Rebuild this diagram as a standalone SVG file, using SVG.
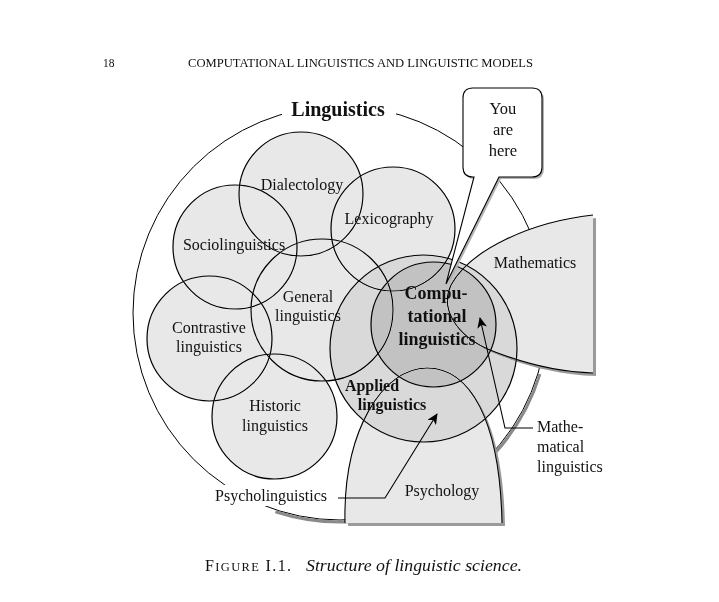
<svg xmlns="http://www.w3.org/2000/svg" width="719" height="602" viewBox="0 0 719 602">
<style>
  text { font-family: "Liberation Serif", "Times New Roman", serif; fill: #111; }
  .lbl { font-size: 16px; text-anchor: middle; }
  .bold { font-weight: bold; }
  .circ { stroke: #000; stroke-width: 1.2; fill: #e8e8e8; }
  .node { mix-blend-mode: darken; }
  .shadow { fill: #9a9a9a; }
  .line { fill: none; stroke: #000; stroke-width: 1.1; }
</style>
<defs>
  <marker id="arr" markerUnits="userSpaceOnUse" markerWidth="12" markerHeight="10" refX="10" refY="5" orient="auto">
    <path d="M0,0 L11,5 L0,10 L3,5 Z" fill="#000"/>
  </marker>
</defs>
<rect width="719" height="602" fill="#fff"/>

<g id="header">
  <text x="103" y="67" style="font-size:11.5px">18</text>
  <text x="188" y="67" style="font-size:11.5px" textLength="345" lengthAdjust="spacingAndGlyphs">COMPUTATIONAL LINGUISTICS AND LINGUISTIC MODELS</text>
</g>

<g id="linguistics">
  <circle cx="340" cy="313" r="207" fill="none" stroke="#000" stroke-width="1"/>
  <path d="M539.9,374.1 A209,209 0 0 1 495.3,452.8" fill="none" stroke="#8a8a8a" stroke-width="3"/>
  <path d="M347.3,521.9 A209,209 0 0 1 275.4,511.8" fill="none" stroke="#8a8a8a" stroke-width="3"/>
  <rect x="282" y="94" width="114" height="28" fill="#fff"/>
  <text x="338" y="116" class="lbl bold" style="font-size:20px">Linguistics</text>
</g>

<g id="mathematics">
  <path class="shadow" d="M596,218 C533,225 473,253 454,288 C443,311 458,338 493,353 C523,365 558,375 596,376 Z"/>
  <path d="M593,215 C530,222 470,250 451,285 C440,308 455,335 490,350 C520,362 555,372 593,373 Z" fill="#e8e8e8"/>
  <path d="M593,215 C530,222 470,250 451,285 C440,308 455,335 490,350 C520,362 555,372 593,373" class="line"/>
  <text x="535" y="268" class="lbl">Mathematics</text>
</g>

<g id="psychology">
  <path class="shadow" d="M348,526 C346,433 386,371 430,371 C473,371 503,423 505,526 Z"/>
  <path d="M345,523 C343,430 383,368 427,368 C470,368 500,420 502,523 Z" fill="#e8e8e8"/>
  <path d="M345,523 C343,430 383,368 427,368 C470,368 500,420 502,523" class="line"/>
  <text x="442" y="496" class="lbl">Psychology</text>
</g>

<g id="dialectology" class="node">
  <circle class="circ" cx="301" cy="194" r="62"/>
  <text x="302" y="190" class="lbl">Dialectology</text>
</g>
<g id="lexicography" class="node">
  <circle class="circ" cx="393" cy="229" r="62"/>
  <text x="389" y="224" class="lbl">Lexicography</text>
</g>
<g id="sociolinguistics" class="node">
  <circle class="circ" cx="235" cy="247" r="62"/>
  <text x="234" y="250" class="lbl">Sociolinguistics</text>
</g>
<g id="general" class="node">
  <circle class="circ" cx="322" cy="310" r="71"/>
  <text x="308" y="302" class="lbl">General</text>
  <text x="308" y="321" class="lbl">linguistics</text>
</g>
<g id="contrastive" class="node">
  <circle class="circ" cx="209.5" cy="338.5" r="62.5"/>
  <text x="209" y="333" class="lbl">Contrastive</text>
  <text x="209" y="352" class="lbl">linguistics</text>
</g>
<g id="historic" class="node">
  <circle class="circ" cx="274.5" cy="416.5" r="62.5"/>
  <text x="275" y="411" class="lbl">Historic</text>
  <text x="275" y="431" class="lbl">linguistics</text>
</g>
<g id="applied" class="node">
  <circle class="circ" cx="423.5" cy="348.5" r="93.5" style="fill:#d9d9d9"/>
  <text x="372" y="391" class="lbl bold">Applied</text>
  <text x="392" y="410" class="lbl bold">linguistics</text>
</g>
<g id="computational" class="node">
  <circle class="circ" cx="433.5" cy="324.5" r="62.5" style="fill:#c2c2c2"/>
  <text x="436" y="299" class="lbl bold" style="font-size:18px">Compu-</text>
  <text x="437" y="322" class="lbl bold" style="font-size:18px">tational</text>
  <text x="437" y="345" class="lbl bold" style="font-size:18px">linguistics</text>
</g>

<g id="callout">
  <path transform="translate(2,2)" fill="#b4b4b4" d="M473,88 H532 Q542,88 542,98 V167 Q542,177 532,177 H499 L446,284 L474,177 H473 Q463,177 463,167 V98 Q463,88 473,88 Z"/>
  <path d="M473,88 H532 Q542,88 542,98 V167 Q542,177 532,177 H499 L446,284 L474,177 H473 Q463,177 463,167 V98 Q463,88 473,88 Z" fill="#fff" stroke="#000" stroke-width="1.1"/>
  <text x="503" y="114" class="lbl" style="font-size:16.5px">You</text>
  <text x="503" y="135" class="lbl" style="font-size:16.5px">are</text>
  <text x="503" y="156" class="lbl" style="font-size:16.5px">here</text>
</g>

<g id="connectors">
  <polyline class="line" points="338,498 385,498 437,414" marker-end="url(#arr)"/>
  <polyline class="line" points="533,428 505,428 480,318" marker-end="url(#arr)"/>
</g>

<g id="psycholinguistics">
  <rect x="211" y="485" width="123" height="21" fill="#fff"/>
  <text x="215" y="501" style="font-size:16px">Psycholinguistics</text>
</g>

<g id="mathematical-linguistics">
  <text x="537" y="432" style="font-size:16px">Mathe-</text>
  <text x="537" y="452" style="font-size:16px">matical</text>
  <text x="537" y="472" style="font-size:16px">linguistics</text>
</g>

<g id="caption">
  <text x="205" y="571" style="font-size:16px" textLength="86" lengthAdjust="spacing"><tspan>F</tspan><tspan style="font-size:12.5px">IGURE</tspan><tspan> I.1.</tspan></text>
  <text x="306" y="571" style="font-size:16px;font-style:italic" textLength="216" lengthAdjust="spacingAndGlyphs">Structure of linguistic science.</text>
</g>
</svg>
